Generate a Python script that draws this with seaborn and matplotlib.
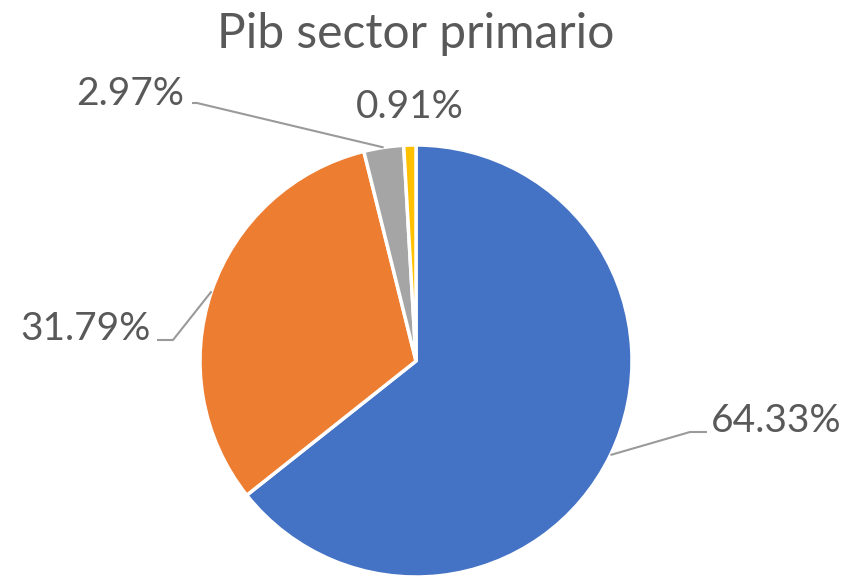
import numpy as np
import matplotlib
matplotlib.use("Agg")
import matplotlib.pyplot as plt
import seaborn as sns

# data
shares = [64.33, 31.79, 2.97, 0.91]
pct_labels = ["64.33%", "31.79%", "2.97%", "0.91%"]
colors = ["#4472C4", "#ED7D31", "#A5A5A5", "#FFC000"]
title = "Pib sector primario"

sns.set_theme(style="white")
plt.rcParams['font.family'] = ['Lato', 'DejaVu Sans']
txt_color = "#595959"
line_color = "#9A9A9A"

W, H = 859, 577
fig = plt.figure(figsize=(W / 100, H / 100), dpi=100)
ax = fig.add_axes([0, 0, 1, 1])

cx, cy, r = 416, H - 361, 216
wedges, _ = ax.pie(shares, colors=sns.color_palette(colors), startangle=90,
                   counterclock=False, center=(cx, cy), radius=r,
                   wedgeprops={'edgecolor': 'white', 'linewidth': 2.5})
ax.set_xlim(0, W)
ax.set_ylim(0, H)
ax.set_aspect('equal')
ax.axis('off')

# label layout in pixel coords (top-left origin): text x, baseline y, align, leader elbow points
layout = [
    (711, 432, 'left', [(690, 432), (707, 432)]),
    (151, 340, 'right', [(173, 340), (157, 340)]),
    (184, 105, 'right', [(197, 103), (192, 103)]),
    (410, 118, 'center', []),
]

for w, lab, (tx, ty, ha, elbow) in zip(wedges, pct_labels, layout):
    ang = np.deg2rad((w.theta1 + w.theta2) / 2)
    ax_x = cx + r * np.cos(ang)
    ax_y = cy + r * np.sin(ang)
    if elbow:
        xs = [ax_x] + [p[0] for p in elbow]
        ys = [ax_y] + [H - p[1] for p in elbow]
        ax.plot(xs, ys, color=line_color, lw=1.5, solid_capstyle='butt')
    ax.text(tx, H - ty, lab, ha=ha, va='baseline', fontsize=28, color=txt_color)

ax.text(416, H - 48, title, ha='center', va='baseline', fontsize=34.5, color=txt_color)

fig.savefig("out.png", dpi=100)
